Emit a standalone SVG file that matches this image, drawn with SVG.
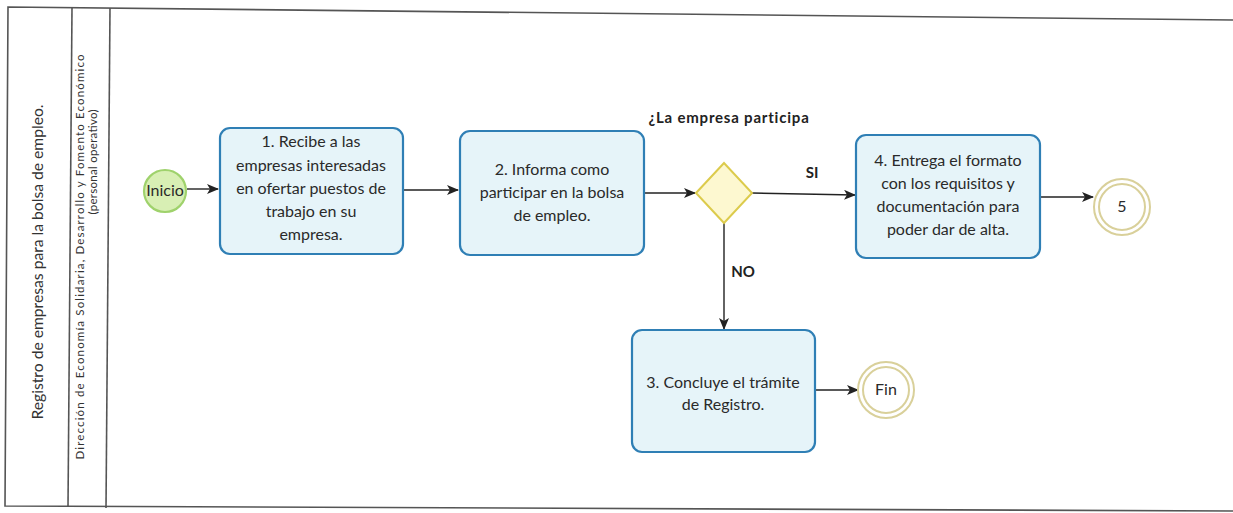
<svg xmlns="http://www.w3.org/2000/svg" width="1233" height="513" viewBox="0 0 1233 513">
<style>
.frame{fill:none;stroke:#555;stroke-width:1.6}
.task{fill:#e6f4f9;stroke:#2f7fb5;stroke-width:2.2}
.t{font-family:Lato,"Liberation Sans",sans-serif;font-size:16px;fill:#2a2a2a;text-anchor:middle}
.b{font-family:Lato,"Liberation Sans",sans-serif;font-weight:bold;font-size:15px;fill:#222;text-anchor:middle}
.lane{font-family:Lato,"Liberation Sans",sans-serif;fill:#333;text-anchor:middle}
.conn{fill:none;stroke:#222;stroke-width:1.4;marker-end:url(#ah)}
.end{fill:#fff;stroke:#d9d09a;stroke-width:2}
</style>
<defs>
<marker id="ah" viewBox="0 0 12 10" refX="11" refY="5" markerWidth="12" markerHeight="10" markerUnits="userSpaceOnUse" orient="auto">
<path d="M0,0 L12,5 L0,10 L3,5 Z" fill="#222"/>
</marker>
</defs>
<rect width="1233" height="513" fill="#fff"/>
<g id="pool">
<path class="frame" d="M1233,20 L8,7 L5,506 L1233,511"/>
<line class="frame" x1="72" y1="8" x2="68" y2="507"/>
<line class="frame" x1="110" y1="8" x2="106" y2="508"/>
<text class="lane" font-size="16" textLength="315" lengthAdjust="spacingAndGlyphs" transform="translate(43,262) rotate(-90)">Registro de empresas para la bolsa de empleo.</text>
<text class="lane" font-size="11.5" textLength="405" lengthAdjust="spacing" transform="translate(84,257) rotate(-90)">Dirección de Economía Solidaria, Desarrollo y Fomento Económico</text>
<text class="lane" font-size="11.5" textLength="105" lengthAdjust="spacing" transform="translate(97,162) rotate(-90)">(personal operativo)</text>
</g>
<g id="connectors">
<line class="conn" x1="187" y1="189" x2="218" y2="189"/>
<line class="conn" x1="403" y1="190" x2="458" y2="190"/>
<line class="conn" x1="644" y1="193" x2="695" y2="193"/>
<line class="conn" x1="752" y1="193" x2="855" y2="195"/>
<line class="conn" x1="1040" y1="197" x2="1093" y2="197"/>
<line class="conn" x1="724" y1="223" x2="724" y2="329"/>
<line class="conn" x1="815" y1="390" x2="858" y2="390"/>
<text class="b" x="812" y="178">SI</text>
<text class="b" x="743" y="277">NO</text>
</g>
<g id="inicio">
<circle cx="165" cy="191" r="21" fill="#d8efb4" stroke="#9fd26c" stroke-width="2.2"/>
<text class="t" x="165" y="196" font-size="14">Inicio</text>
</g>
<g id="task1">
<rect class="task" x="220" y="128" width="183" height="126" rx="10"/>
<text class="t" x="311" y="147">1. Recibe a las</text>
<text class="t" x="311" y="171">empresas interesadas</text>
<text class="t" x="311" y="194">en ofertar puestos de</text>
<text class="t" x="311" y="217">trabajo en su</text>
<text class="t" x="311" y="240">empresa.</text>
</g>
<g id="task2">
<rect class="task" x="460" y="131" width="184" height="124" rx="10"/>
<text class="t" x="552" y="175">2. Informa como</text>
<text class="t" x="552" y="198">participar en la bolsa</text>
<text class="t" x="552" y="221">de empleo.</text>
</g>
<g id="gateway">
<polygon points="696,193 724,163 752,193 724,223" fill="#fdf8d0" stroke="#dccb4c" stroke-width="2"/>
<text class="b" x="729" y="123" letter-spacing="0.8">¿La empresa participa</text>
</g>
<g id="task4">
<rect class="task" x="856" y="135" width="184" height="123" rx="10"/>
<text class="t" x="948" y="166">4. Entrega el formato</text>
<text class="t" x="948" y="189">con los requisitos y</text>
<text class="t" x="948" y="212">documentación para</text>
<text class="t" x="948" y="235">poder dar de alta.</text>
</g>
<g id="end5">
<circle class="end" cx="1122" cy="207" r="28"/>
<circle class="end" cx="1122" cy="207" r="23" stroke-width="1.6"/>
<text class="t" x="1122" y="212" font-size="13">5</text>
</g>
<g id="task3">
<rect class="task" x="632" y="330" width="183" height="122" rx="10"/>
<text class="t" x="723" y="388">3. Concluye el trámite</text>
<text class="t" x="723" y="410">de Registro.</text>
</g>
<g id="fin">
<circle class="end" cx="886" cy="390" r="28"/>
<circle class="end" cx="886" cy="390" r="23" stroke-width="1.6"/>
<text class="t" x="886" y="395" font-size="14">Fin</text>
</g>
</svg>
